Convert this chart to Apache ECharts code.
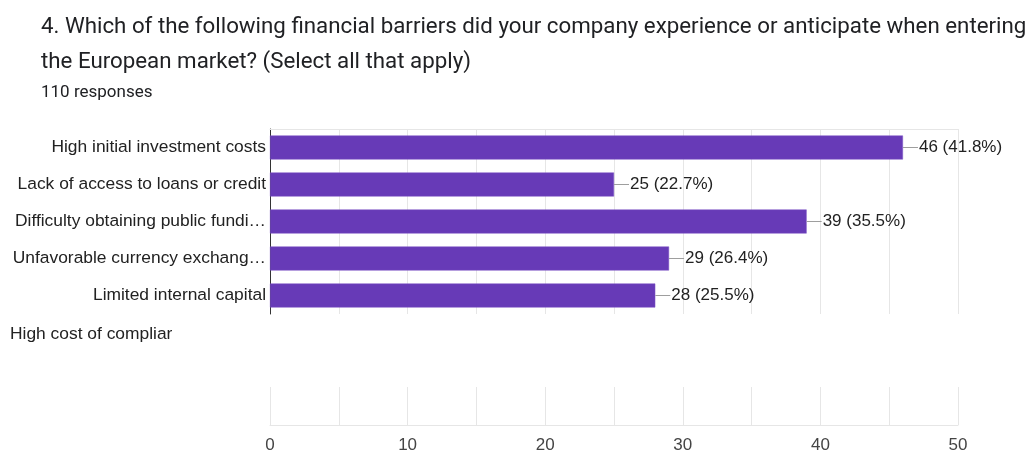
<!DOCTYPE html>
<html>
<head>
<meta charset="utf-8">
<script src="https://cdn.jsdelivr.net/npm/echarts@6/dist/echarts.min.js"></script>
<style>
  html, body { margin: 0; padding: 0; background: #ffffff; }
  #chart { width: 1035px; height: 455px; }
</style>
</head>
<body>
<div id="chart"></div>
<script>
// Survey question and response count
const questionLines = [
  '4. Which of the following financial barriers did your company experience or anticipate when entering',
  'the European market? (Select all that apply)'
];
const responseCount = 110;

// Answer options shown with bars (top to bottom) and their counts
const categories = [
  'High initial investment costs',
  'Lack of access to loans or credit',
  'Difficulty obtaining public fundi\u2026',
  'Unfavorable currency exchang\u2026',
  'Limited internal capital'
];
const counts = [46, 25, 39, 29, 28];

// Option label left over below the bars
const extraLabel = 'High cost of compliar';

// Value axis ticks
const axisMin = 0;
const axisMax = 50;
const axisStep = 10;

const labelFont = '"Liberation Sans", Arial, sans-serif';
const titleFont = 'Roboto, "Noto Sans", sans-serif';
const gridColor = '#e6e6e6';
const labelSize = 17.4;

const chart = echarts.init(document.getElementById('chart'), null, { renderer: 'canvas' });

const valueAxisBase = {
  type: 'value',
  min: axisMin,
  max: axisMax,
  interval: axisStep,
  minorTick: { show: false, splitNumber: 2 },
  minorSplitLine: { show: true, lineStyle: { color: gridColor, width: 1 } },
  splitLine: { show: true, lineStyle: { color: gridColor, width: 1 } },
  axisTick: { show: false }
};

chart.setOption({
  animation: false,
  backgroundColor: '#ffffff',
  title: [
    {
      text: questionLines.join('\n'),
      left: 36,
      top: 5,
      textStyle: { fontFamily: titleFont, fontSize: 22.3, fontWeight: 'normal', color: '#202124', lineHeight: 35 }
    },
    {
      text: responseCount + ' responses',
      left: 36,
      top: 78,
      textStyle: { fontFamily: titleFont, fontSize: 17, fontWeight: 'normal', color: '#202124', lineHeight: 20 }
    }
  ],
  grid: [
    { left: 270, right: 77, top: 129, height: 185, containLabel: false },
    { left: 270, right: 77, top: 387, height: 38, containLabel: false }
  ],
  xAxis: [
    Object.assign({}, valueAxisBase, {
      gridIndex: 0,
      position: 'top',
      axisLine: { show: true, lineStyle: { color: gridColor, width: 1 } },
      axisLabel: { show: false }
    }),
    Object.assign({}, valueAxisBase, {
      gridIndex: 1,
      position: 'bottom',
      axisLine: { show: true, lineStyle: { color: gridColor, width: 1 } },
      axisLabel: {
        show: true,
        margin: 12,
        fontFamily: labelFont,
        fontSize: 17,
        color: '#444444'
      }
    })
  ],
  yAxis: [
    {
      type: 'category',
      gridIndex: 0,
      data: categories,
      inverse: true,
      axisLine: { show: true, lineStyle: { color: '#333333', width: 1 } },
      axisTick: { show: false },
      splitLine: { show: false },
      axisLabel: {
        margin: 4,
        fontFamily: labelFont,
        fontSize: labelSize,
        color: '#222222'
      }
    },
    {
      type: 'category',
      gridIndex: 1,
      data: [''],
      axisLine: { show: false },
      axisTick: { show: false },
      axisLabel: { show: false }
    }
  ],
  series: [
    {
      type: 'bar',
      xAxisIndex: 0,
      yAxisIndex: 0,
      data: counts,
      barWidth: 24,
      itemStyle: { color: '#673ab7', borderColor: '#7c55c4', borderWidth: 0.5 },
      label: {
        show: true,
        position: 'right',
        distance: 0,
        formatter: function (p) {
          const pct = (p.value / responseCount * 100).toFixed(1);
          return '{lead|}{val|' + p.value + ' (' + pct + '%)}';
        },
        rich: {
          lead: { width: 15, height: 1, backgroundColor: '#9e9e9e', verticalAlign: 'middle' },
          val: { fontFamily: labelFont, fontSize: 17, color: '#222222', padding: [0, 0, 0, 1] }
        }
      }
    }
  ],
  graphic: [
    {
      type: 'text',
      left: 10,
      top: 326,
      style: {
        text: extraLabel,
        font: labelSize + 'px ' + labelFont,
        fill: '#222222'
      }
    }
  ]
});
</script>
</body>
</html>
